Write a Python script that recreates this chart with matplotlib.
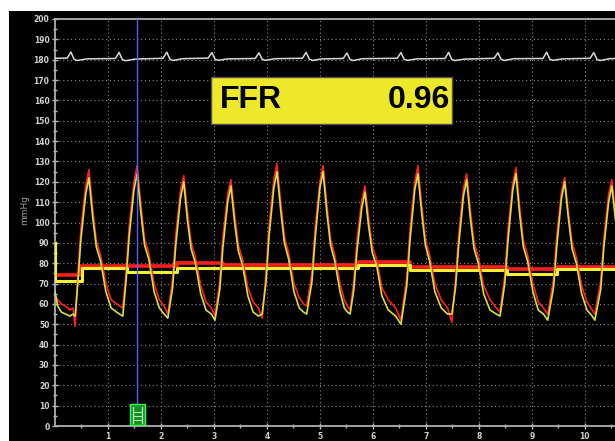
import matplotlib
matplotlib.use("Agg")
import matplotlib.pyplot as plt
from matplotlib.patches import Rectangle

# aortic pressure (Pa, red) and distal pressure (Pd, yellow), mmHg vs seconds
t = [0.00, 0.05, 0.12, 0.20, 0.28, 0.34,
     0.38, 0.43, 0.49, 0.58, 0.64, 0.71, 0.78, 0.86, 0.96, 1.06, 1.16,
     1.28, 1.34, 1.40, 1.49, 1.55, 1.62, 1.69, 1.77, 1.87, 1.97, 2.06,
     2.13, 2.22, 2.28, 2.37, 2.43, 2.50, 2.57, 2.65, 2.75, 2.85, 2.95,
     3.02, 3.11, 3.17, 3.26, 3.32, 3.39, 3.46, 3.54, 3.64, 3.74, 3.84,
     3.91, 3.98, 4.04, 4.13, 4.19, 4.26, 4.33, 4.41, 4.51, 4.61, 4.69,
     4.75, 4.85, 4.91, 5.00, 5.06, 5.13, 5.20, 5.28, 5.38, 5.46, 5.52,
     5.57, 5.64, 5.70, 5.79, 5.85, 5.92, 5.99, 6.07, 6.17, 6.29, 6.43,
     6.53, 6.64, 6.70, 6.79, 6.85, 6.92, 6.99, 7.07, 7.17, 7.29, 7.41,
     7.49, 7.56, 7.62, 7.71, 7.77, 7.84, 7.91, 7.99, 8.09, 8.21, 8.33,
     8.40, 8.49, 8.55, 8.64, 8.70, 8.77, 8.84, 8.92, 9.02, 9.12, 9.22,
     9.30, 9.41, 9.47, 9.56, 9.62, 9.69, 9.76, 9.84, 9.94, 10.04, 10.14,
     10.19, 10.30, 10.36, 10.45, 10.51, 10.58]

pa = [64, 62, 60, 59, 57, 58,
      49, 74, 97, 118, 126, 107, 91, 84, 70, 62, 60,
      58, 75, 98, 120, 128, 109, 92, 85, 70, 62, 59,
      55, 72, 94, 116, 123, 105, 90, 83, 69, 61, 58,
      54, 71, 93, 114, 121, 104, 89, 82, 68, 61, 58,
      53, 74, 98, 121, 129, 110, 93, 85, 70, 63, 60,
      59, 75, 97, 120, 128, 109, 92, 84, 70, 62, 59,
      57, 71, 91, 111, 118, 102, 88, 82, 68, 62, 58,
      52, 73, 96, 120, 128, 109, 92, 84, 70, 62, 58,
      51, 72, 94, 117, 124, 106, 90, 83, 69, 62, 58,
      56, 74, 96, 119, 127, 108, 91, 84, 70, 61, 58,
      55, 72, 93, 115, 122, 105, 90, 83, 69, 61, 57,
      55, 71, 92, 114, 121, 104]

pd = [66, 59, 56, 55, 54, 55,
      54, 70, 92, 114, 122, 103, 88, 81, 66, 58, 56,
      54, 71, 93, 116, 124, 105, 89, 82, 66, 58, 55,
      53, 68, 89, 112, 120, 101, 87, 80, 65, 57, 55,
      52, 67, 88, 110, 118, 100, 86, 79, 64, 56, 54,
      55, 70, 93, 117, 125, 106, 90, 82, 66, 58, 56,
      55, 71, 92, 117, 125, 105, 89, 81, 66, 58, 56,
      55, 67, 86, 107, 115, 98, 85, 79, 64, 57, 54,
      50, 69, 91, 116, 124, 105, 89, 81, 66, 58, 55,
      55, 68, 89, 113, 121, 102, 87, 80, 65, 57, 55,
      54, 70, 91, 116, 124, 104, 88, 81, 66, 57, 55,
      52, 68, 88, 112, 120, 102, 87, 80, 65, 57, 54,
      52, 67, 88, 110, 118, 101]

# running means (step lines)
pa_mean_t = [0.00, 0.00, 0.48, 0.48, 2.30, 2.30, 3.17, 3.17, 5.72, 5.72, 6.70, 6.70, 8.53, 8.53, 9.47, 9.47, 10.6]
pa_mean_v = [90.0, 74.2, 74.2, 78.8, 78.8, 80.0, 80.0, 79.0, 79.0, 80.8, 80.8, 78.1, 78.1, 77.1, 77.1, 78.3, 78.3]
pd_mean_t = [0.00, 0.00, 0.51, 0.51, 1.36, 1.36, 2.30, 2.30, 5.72, 5.72, 6.70, 6.70, 8.53, 8.53, 9.47, 9.47, 10.6]
pd_mean_v = [90.0, 71.4, 71.4, 77.5, 77.5, 75.9, 75.9, 77.5, 77.5, 79.0, 79.0, 76.5, 76.5, 74.8, 74.8, 77.0, 77.0]

# ECG trace drawn near the top
ecg_t = [0.00, 0.23, 0.30, 0.36, 0.42, 0.60, 1.14, 1.21, 1.27, 1.33, 1.51,
         2.04, 2.11, 2.17, 2.23, 2.41, 2.89, 2.96, 3.02, 3.08, 3.26,
         3.78, 3.85, 3.91, 3.97, 4.15, 4.67, 4.74, 4.80, 4.86, 5.04,
         5.44, 5.51, 5.57, 5.63, 5.81, 6.46, 6.53, 6.59, 6.65, 6.83,
         7.36, 7.43, 7.49, 7.55, 7.73, 8.29, 8.36, 8.42, 8.48, 8.66,
         9.21, 9.28, 9.34, 9.40, 9.58, 10.10, 10.17, 10.23, 10.29, 10.47, 10.60]
ecg_v = [180.7, 180.8, 183.8, 180.2, 179.6, 180.4, 180.6, 183.6, 180.1, 179.5, 180.3,
         180.7, 183.7, 180.2, 179.6, 180.5, 180.8, 183.5, 180.3, 179.7, 180.4,
         180.6, 183.4, 180.2, 179.7, 180.5, 180.7, 183.6, 180.3, 179.6, 180.4,
         180.6, 183.3, 180.1, 179.6, 180.5, 180.7, 183.5, 180.2, 179.7, 180.4,
         180.6, 183.6, 180.1, 179.6, 180.3, 180.7, 183.4, 180.2, 179.6, 180.5,
         180.6, 183.7, 180.2, 179.7, 180.4, 180.7, 183.5, 180.1, 179.6, 180.5, 180.6]

cursor_t = 1.55
ffr_value = "0.96"

fig = plt.figure(figsize=(6.15, 4.41), dpi=100, facecolor="white")
fig.patches.append(Rectangle((9 / 615, 0), 1, 1 - 11 / 441, transform=fig.transFigure,
                             facecolor="black", edgecolor="none", zorder=-10))

ax = fig.add_axes([55 / 615, 15 / 441, 560 / 615, 407 / 441])
ax.set_facecolor("black")
ax.set_xlim(0, 10.57)
ax.set_ylim(0, 200)

ax.set_yticks(range(0, 201, 10))
ax.set_yticks(range(0, 201, 5), minor=True)
ax.set_xticks(range(1, 11))
ax.set_xticks([x + 0.5 for x in range(0, 11)], minor=True)
ax.set_xticklabels([str(i) for i in range(1, 11)])
ax.tick_params(axis="both", which="both", colors="#b8b8b8", direction="inout")
ax.tick_params(axis="both", which="major", length=4, width=1, labelsize=5.5, pad=2)
ax.tick_params(axis="both", which="minor", length=3, width=1)
for lab in ax.get_xticklabels() + ax.get_yticklabels():
    lab.set_fontweight("bold")
    lab.set_color("#d0d0d0")

for side in ["left", "bottom", "top"]:
    ax.spines[side].set_color("#b0b0b0")
    ax.spines[side].set_linewidth(1.3)
ax.spines["right"].set_visible(False)

for y in range(10, 200, 10):
    ax.axhline(y, color="#8a8a8a", lw=0.8, ls=(0, (1, 2.5)), zorder=1)
for x in range(1, 11):
    ax.axvline(x, color="#8a8a8a", lw=0.8, ls=(0, (1, 2.5)), zorder=1)

ax.plot(ecg_t, ecg_v, color="#d8d8d8", lw=1.1, zorder=3)

ax.plot(pa_mean_t, pa_mean_v, color="#ff1e1e", lw=2.6, zorder=3)
ax.plot(pd_mean_t, pd_mean_v, color="#f2f232", lw=2.2, zorder=4)
ax.plot(t, pa, color="#ff2020", lw=1.2, zorder=5)
ax.plot(t, pd, color="#d8df3e", lw=1.2, zorder=6)

ax.axvline(cursor_t, color="#4e62ff", lw=1.0, zorder=7)
ax.add_patch(Rectangle((1.42, 0.4), 0.28, 10.2, facecolor="#1c8a28", edgecolor="#3cff4a", lw=1, zorder=8))
ax.plot([1.48, 1.48], [1.5, 9.5], color="#a8ffb0", lw=0.9, zorder=9)
ax.plot([1.64, 1.64], [1.5, 9.5], color="#a8ffb0", lw=0.9, zorder=9)
for yy in [3, 5, 7]:
    ax.plot([1.50, 1.62], [yy, yy], color="#a8ffb0", lw=0.7, zorder=9)

ax.add_patch(Rectangle((2.94, 148.4), 4.55, 23.1, facecolor="#ede82a", edgecolor="#505050", lw=1, zorder=10))
ax.text(3.11, 160, "FFR", fontsize=23, fontweight="bold", family="Liberation Sans",
        color="black", ha="left", va="center", zorder=11)
ax.text(7.45, 160, ffr_value, fontsize=23, fontweight="bold", family="Liberation Sans",
        color="black", ha="right", va="center", zorder=11)

fig.text(25 / 615, 1 - 210 / 441, "mmHg", rotation=90, color="#a0a0a0", fontsize=6.5,
         ha="center", va="center")

fig.savefig("out.png", dpi=100, facecolor=fig.get_facecolor())
